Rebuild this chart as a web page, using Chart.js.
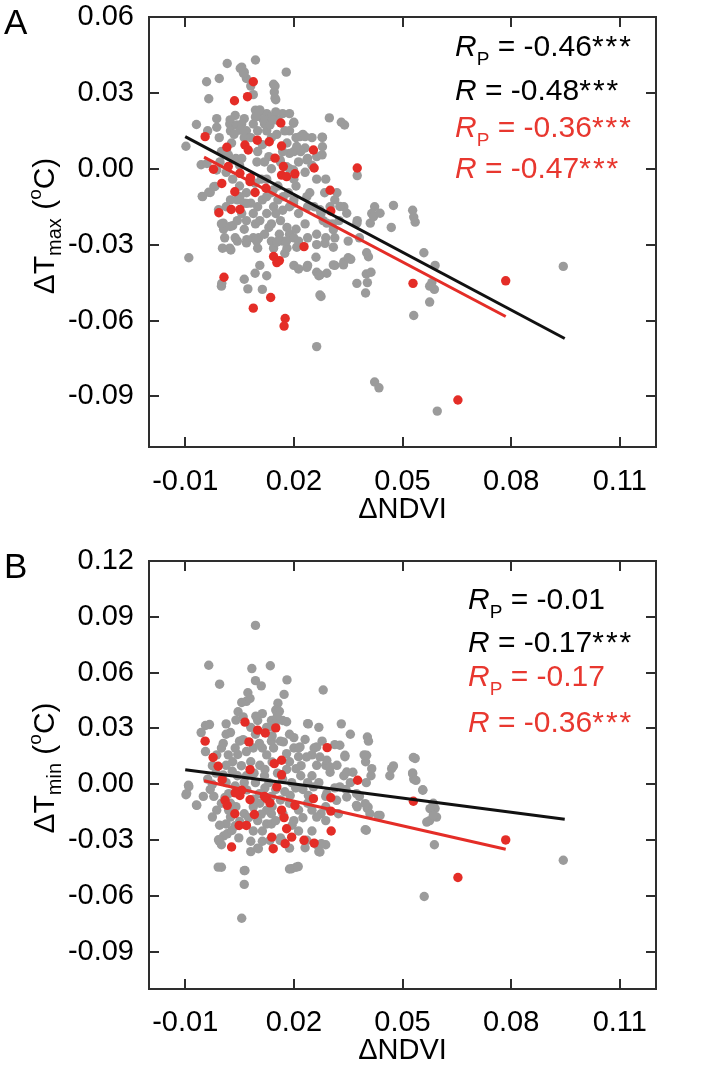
<!DOCTYPE html>
<html><head><meta charset="utf-8">
<script src="https://cdn.jsdelivr.net/npm/chart.js@4.4.1/dist/chart.umd.min.js"></script>
<style>
html,body{margin:0;padding:0;background:#fff;}
#wrap{position:relative;width:709px;height:1082px;overflow:hidden;}
canvas{position:absolute;left:0;width:709px;height:541px;}
#cA{top:0}
#cB{top:541px}
</style></head><body>
<div id="wrap"><canvas id="cA" width="709" height="541"></canvas><canvas id="cB" width="709" height="541"></canvas></div>
<script>
// ---------------- data ----------------
const xTicks = [-0.01, 0.02, 0.05, 0.08, 0.11];
const yTicksA = [-0.09, -0.06, -0.03, 0.00, 0.03, 0.06];
const yTicksB = [-0.09, -0.06, -0.03, 0.00, 0.03, 0.06, 0.09, 0.12];
const xTitle = 'ΔNDVI';
const yTitleSubA = 'max';
const yTitleSubB = 'min';

const greyA = [[-0.0098,0.0089],[-0.009,-0.0352],[-0.0069,0.0175],[-0.0056,0.0016],[-0.0053,-0.0109],[-0.0041,0.0344],[-0.0035,0.0277],[-0.0035,-0.0093],[-0.0021,-0.0071],[-0.0038,0.015],[-0.0013,0.0198],[-0.0006,0.0357],[-0.0013,0.0164],[-0.0006,0.0123],[0,0.0068],[-0.0004,0.0027],[0,-0.0218],[0.0006,-0.0239],[0.0009,-0.0273],[0.0003,-0.0314],[0,-0.0464],[0.0016,0.0416],[0.0023,0.0177],[0.0025,0.015],[0.0028,0.0102],[0.0019,0.0055],[0.0025,-0.0123],[0.0031,-0.0225],[0.0023,-0.0314],[0.0038,0.0211],[0.0035,0.0136],[0.004,0.0041],[0.0044,-0.0123],[0.0044,-0.0205],[0.005,0.0014],[0.0056,0.0402],[0.0063,0.0382],[0.0069,0.0357],[0.0063,0.0198],[0.0056,0.0177],[0.0069,0.015],[0.0063,0.0123],[0.0056,0.0041],[0.0069,-0.0095],[0.0063,-0.0136],[0.0056,-0.0177],[0.0069,-0.0205],[0.0063,-0.0239],[0.0069,-0.0293],[0.0063,-0.0437],[0.0073,-0.0475],[0.0081,0.0327],[0.0088,0.0293],[0.0094,0.043],[0.0094,0.0232],[0.0094,0.0205],[0.0088,0.0177],[0.01,0.015],[0.0098,0.0027],[0.01,-0.015],[0.0094,-0.0218],[0.0103,-0.0273],[0.0106,-0.0382],[0.0113,-0.0477],[0.0106,0.0225],[0.0113,0.0095],[0.011,-0.0041],[0.0113,-0.0123],[0.0125,0.0218],[0.0131,0.0191],[0.0125,0.015],[0.0138,0.0123],[0.0131,0.0048],[0.0125,-0.0041],[0.0138,-0.0095],[0.0125,-0.0177],[0.0131,-0.0232],[0.0138,-0.0286],[0.0125,-0.0423],[0.0144,0.0334],[0.0146,0.0303],[0.015,0.0273],[0.015,0.0225],[0.0156,0.0191],[0.0153,0.0136],[0.0163,0.0027],[0.0156,-0.0123],[0.0163,-0.0205],[0.016,-0.0259],[0.0169,-0.0286],[0.0175,-0.0334],[0.0179,0.0382],[0.0188,0.015],[0.0181,0.0102],[0.0188,0.0061],[0.0185,-0.0095],[0.0188,-0.015],[0.0181,-0.0232],[0.0188,-0.0259],[0.02,0.0184],[0.0206,0.0123],[0.02,0.0068],[0.0213,0.0027],[0.0206,-0.0068],[0.02,-0.0123],[0.0213,-0.0177],[0.0206,-0.0239],[0.02,-0.0273],[0.02,-0.0382],[0.0213,-0.0396],[0.0225,0.0136],[0.0231,0.0082],[0.0238,0.0041],[0.0231,-0.0014],[0.0244,-0.0095],[0.0238,-0.015],[0.0231,-0.0218],[0.0238,-0.0273],[0.0238,-0.0382],[0.025,0.0123],[0.0263,0.0048],[0.0256,-0.015],[0.0263,-0.0703],[0.0263,-0.0409],[0.0269,-0.0423],[0.0275,-0.0505],[0.0278,0.0125],[0.0278,0.0055],[0.0285,-0.0095],[0.0281,-0.0205],[0.0288,-0.0273],[0.0298,0.0201],[0.03,-0.015],[0.0306,-0.0218],[0.0313,-0.0273],[0.0313,-0.0382],[0.0331,0.0184],[0.034,0.0173],[0.0338,-0.0368],[0.035,-0.0352],[0.0375,-0.0027],[0.0375,-0.0205],[0.0381,-0.0273],[0.0398,-0.0491],[0.0403,-0.045],[0.04,-0.0416],[0.0413,-0.0409],[0.0406,-0.0348],[0.0423,-0.015],[0.0415,-0.0177],[0.0423,-0.0843],[0.0435,-0.0866],[0.0469,-0.0232],[0.0475,-0.0145],[0.0528,-0.0164],[0.0531,-0.0191],[0.0535,-0.0211],[0.0531,-0.058],[0.0559,-0.0332],[0.0581,-0.045],[0.0588,-0.0477],[0.0575,-0.0527],[0.059,-0.0382],[0.0596,-0.0958],[0.0944,-0.0386],[0.0575,-0.0464],
[0.0013,-0.0014],[0.0031,-0.0041],[0.005,-0.0068],[0.0081,-0.0136],[0.0088,-0.0177],[0.0106,-0.0205],[0.0088,-0.0273],[0.0119,-0.0259],[0.0138,-0.0218],[0.015,-0.0177],[0.0169,-0.0164],[0.0144,-0.015],[0.0156,-0.0068],[0.0138,0],[0.0119,0.0027],[0.01,0.0068],[0.0081,0.0123],[0.0119,0.0177],[0.0138,0.0205],[0.0169,0.0218],[0.0188,0.0218],[0.0175,0.015],[0.0169,0.0068],[0.0188,0],[0.0219,0.0068],[0.025,0.0014],[0.02,-0.0041],[0.0181,-0.0314],[0.0144,-0.0314],[0.01,-0.0314],[0.0044,-0.0286],[0.0013,-0.015],[0.0038,-0.0273],[0.0156,-0.0286],[0.0213,-0.0286],[0.0263,-0.0259],[0.0275,-0.0177],[0.0288,-0.0041],[0.0263,-0.0041],[0.0313,-0.0123],[0.0338,-0.015],[0.0325,-0.0205],[0.0319,-0.0095],[0.035,-0.0286],
[0.0024,0.0193],[0.0042,0.0173],[0.0051,0.0153],[0.0106,0.0233],[0.0116,0.0193],[0.0134,0.0173],[0.0143,0.0193],[0.0097,0.0206],[0.0199,0.018],[0.0217,0.0127],[0.0231,0.0127],[0.0208,0.0088],[0.0236,0.0035],[0.0199,-0.0005],[0.0162,0.0035],[0.018,0.0008],[0.0014,0.0074],[0.0033,0.0035],[-0.004,0.0021],[-0.0013,-0.0005],[-0.0008,-0.0162],[0.0005,-0.0215],[0.0024,-0.0228],[0.0051,-0.011],[0.007,-0.0137],[0.0093,-0.0057],[0.0125,-0.011],[0.0143,-0.0084],[0.0171,-0.011],[0.0199,-0.0137],[0.0236,-0.011],[0.0272,-0.0162],[0.0291,-0.0215],[0.0309,-0.0241],[0.0327,-0.0149],[0.0346,-0.0176],[0.0374,-0.0215],[0.0411,-0.0215],[0.042,-0.0189],[0.0438,-0.0176],[0.007,-0.028],[0.0097,-0.0285],[0.0153,-0.029],[0.018,-0.0285],[0.0208,-0.031],[0.0263,-0.03],[0.0286,-0.0295],[0.0309,-0.031],[0.0093,-0.0413],[0.0236,-0.039],[0.0261,-0.035],[0.0272,-0.042],[0.0291,-0.0413],[0.0309,-0.038],[0.0337,-0.038],[0.0357,-0.0358],[0.0272,-0.0499],[0.0374,-0.0453],[0.0401,-0.0332],[0.0001,-0.0453],[0.0026,-0.0321],[0.0052,0.0397],[0.0061,0.0377],[0.0148,0.0327],[0.0148,0.0279],[0.0279,0.0124],[0.0279,0.0087],[-0.0052,-0.011],[-0.0031,-0.0094],[-0.0018,-0.007]];

const redA = [[-0.0045,0.0127],[-0.0022,-0.0002],[0.0001,-0.0058],[-0.0007,-0.0174],[0.0007,-0.0429],[0.0015,0.0085],[0.0019,0.0009],[0.0027,-0.0161],[0.0037,-0.0091],[0.0036,0.0269],[0.0051,-0.0018],[0.0051,-0.0161],[0.0065,0.0094],[0.0072,0.0285],[0.0079,-0.0051],[0.0088,0.0344],[0.0074,0.0074],[0.0093,-0.0094],[0.0088,-0.0551],[0.0099,0.0113],[0.0123,-0.0077],[0.0136,-0.0509],[0.0132,0.0107],[0.0144,-0.0347],[0.0148,0.0042],[0.016,-0.0363],[0.0153,-0.0371],[0.0164,0.0181],[0.0166,0.009],[0.0166,-0.0025],[0.0171,0.0009],[0.0176,-0.0592],[0.0173,-0.0622],[0.018,-0.0031],[0.0203,-0.002],[0.0228,-0.0308],[0.0254,0.0074],[0.0256,0.0003],[0.03,-0.0085],[0.0302,-0.0167],[0.0375,0.0003],[0.0529,-0.0453],[0.0653,-0.0914],[0.0785,-0.0443],[0.008,-0.0035]];

const greyB = [[0.0094,0.0854],[-0.0035,0.064],[0.0135,0.0637],[0.0084,0.0622],[-0.0005,0.0538],[0.0094,0.0557],[0.011,0.0529],[0.0181,0.0561],[0.0281,0.0507],[0.0173,0.0483],[0.0073,0.0492],[0.0069,0.0446],[0.0056,0.044],[0.0156,0.0436],[0.015,0.0399],[0.0046,0.039],[0.006,0.0362],[0.0169,0.0343],[-0.0044,0.0316],[-0.0056,0.0278],[0.0013,0.0325],[0.0025,0.0278],[0.0138,0.0343],[0.024,0.0325],[0.0269,0.0306],[0.0331,0.0325],[0.0356,0.0269],[0.0278,0.0232],[0.0313,0.0213],[0.0341,0.0148],[0.0403,0.0254],[0.0406,0.0232],[0.0394,0.0158],[0.0415,0.0084],[0.0413,0.0046],[0.047,0.0084],[0.0465,0.0046],[0.0535,0.0139],[0.0528,0.0061],[0.0531,0.0028],[0.0556,-0.0032],[0.0585,-0.0102],[0.059,-0.013],[0.0575,-0.0195],[0.0594,-0.0176],[0.0588,-0.0325],[0.056,-0.0603],[0.0944,-0.0408],[0.0438,-0.0167],[0.04,-0.0247],[0.0403,-0.013],[0.0375,-0.0121],[0.0381,-0.0065],[0.0344,-0.0028],[0.0338,0.0046],[0.0313,-0.0019],[0.0275,-0.0158],[0.0288,-0.0195],[0.0269,-0.0362],[0.0263,-0.0325],[0.0206,-0.0446],[0.0188,-0.0455],[0,-0.0446],[0.0063,-0.0464],[0.0063,-0.0538],[0.0056,-0.072],[-0.0006,-0.0306],[0.0006,-0.0278],[0.01,-0.0343],[0.0113,-0.0306],[0.0048,-0.0288],[-0.0098,-0.0056],[-0.009,-0.0013],[-0.0069,-0.0111],[-0.0021,-0.0065],[-0.0025,0],[-0.0013,-0.0139],[0.0013,0.0009],[0.0019,0.0158],[0.0013,0.0102],[0.0031,0.0121],[0.0038,0.0195],[0.005,0.0232],[0.0069,0.0176],[0.0044,0.0046],[0.0063,0.0009],[0.0081,0.0121],[0.0088,0.0195],[0.0094,0.0269],[0.01,0.0343],[0.0113,0.0195],[0.0125,0.0158],[0.0138,0.0232],[0.0144,0.0195],[0.0106,0.0102],[0.0119,0.0046],[0.0131,0.0009],[0.015,-0.0028],[0.0138,-0.0065],[0.0188,0.0121],[0.02,0.0195],[0.0213,0.0195],[0.0213,0.0148],[0.0206,0.0084],[0.0219,0.0046],[0.0194,0.0009],[0.0225,-0.0028],[0.0238,0.0009],[0.025,0.0046],[0.0263,0.0102],[0.025,0.0158],[0.0288,0.0102],[0.03,0.0065],[0.0269,0.0009],[0.0288,-0.0065],[0.0238,-0.0102],[0.0213,-0.0139],[0.02,-0.0195],[0.0188,-0.0102],[0.0163,-0.0084],[0.0138,-0.0158],[0.0125,-0.0213],[0.01,-0.0195],[0.0088,-0.0251],[0.0113,-0.0251],[0.0138,-0.0213],[0.015,-0.0195],[0.0163,-0.0288],[0.0213,-0.0251],[0.025,-0.0251],[0.0263,-0.0176],[0.0025,-0.0176],[0.0038,-0.0223],[0.0013,-0.0213],[0.0063,-0.0158],[0.0088,-0.0121],[0.0106,-0.0102],[0.0125,-0.0139],[0.0025,-0.0102],[0,-0.0102],[-0.0031,-0.0028],[-0.005,-0.0065],[-0.0038,0.0028],[-0.0013,0.0158],[0,0.0195],[-0.0044,0.0176],[0.0013,0.0269],[0.0081,0.0306],[0.0125,0.0306],[0.0113,0.038],[0.0163,0.0232],[0.0188,0.0269],[0.02,0.0251],[0.0231,0.0241],[0.0256,0.0195],[0.0169,0.0028],[0.0094,0.0009],[0.0069,0.0046],[0.0038,-0.0009],[-0.0025,-0.0176],[0,-0.0325],[0.0081,-0.0306],[0.0081,-0.0362],[0.0169,-0.0306],[0.0188,-0.0343],[0.0288,-0.0325],[0.0398,0.0121],[0.04,0.0009],[0.0356,0.0009],[0.0363,0.0065],[0.0319,0.0102],[0.025,-0.0139],[0.0288,-0.0121],
[0.0079,0.0461],[0.016,0.0392],[0.0154,0.0365],[0.0095,0.0366],[0.018,0.0336],[-0.0033,0.0321],[0.004,0.0345],[0.0139,0.0309],[0.0148,0.0325],[0.0238,0.0326],[-0.0091,-0.0005],[-0.0096,-0.005],[-0.0068,-0.0113],[-0.0009,-0.0445],[0.0065,-0.0463],[0.0194,-0.0454],[0.0212,-0.0442],[-0.0008,-0.0298],[0.0016,-0.0266],[0.0029,-0.0248],[0.0102,-0.0346],[0.0134,-0.0301],[0.0162,-0.0301],[0.0231,-0.0341],[0.0236,-0.0301],[0.0272,-0.0364],[0.0276,-0.0319],[0.0397,-0.0244],[0.0373,-0.0113],[0.0405,-0.0122],[0.0433,-0.0167],[0.053,0.0144],[0.0528,0.0057],[0.0537,0.0021],[0.0556,-0.0029],[0.0576,-0.0131],[0.0585,-0.0167],[0.0567,-0.0203],[0.0401,0.0156],[0.0475,0.0099],[0.0341,0.0156],[0.0346,0.0066],[0.0327,0.021],[0.0291,0.0129],[0.03,0.0093],[0.0263,0.0201],[0.0272,0.0147],[0.0217,0.0201],[0.0235,0.0147],[0.0171,0.0228],[0.018,0.0165],[0.0254,-0.0014],[0.0291,-0.005],[0.0323,-0.0158],[0.0318,-0.0086],[0.0373,-0.005],[0.0327,-0.0014],[0.0346,-0.0068],[0.0397,-0.0104],[0.041,-0.0158],
[0.0005,0.005],[0.002,-0.005],[0.004,-0.012],[0.0055,0.01],[0.007,-0.003],[0.009,0.006],[0.0105,-0.005],[0.012,0.008],[0.014,0.012],[0.0155,0.006],[0.0175,-0.004],[0.019,-0.006],[0.0205,-0.002],[0.022,0.01],[0.003,0.007],[0.005,-0.02],[0.0075,-0.018],[0.011,-0.016],[0.014,-0.012],[0.017,-0.016],[0.0195,-0.022],[0.0225,-0.018],[0.024,-0.006],[-0.0015,0.006],[-0.0025,0.01],[0.001,-0.007],[0.006,0.024],[0.0105,0.022],[0.014,0.026],[0.018,0.008],[0.009,-0.008],[0.012,-0.002],[0.0045,0.016],[0.0005,0.022],[-0.0005,-0.022],[0.002,-0.014]];

const redB = [[-0.0045,0.0232],[-0.0023,0.0144],[-0.0009,0.0097],[0.0002,0.0025],[0.001,-0.0086],[0.0016,-0.0113],[0.0037,-0.0158],[0.0028,-0.0337],[0.0049,-0.0221],[0.0069,-0.0221],[0.0051,-0.006],[0.0056,-0.0032],[0.0079,-0.0083],[0.0079,0.0079],[0.0076,0.0228],[0.0065,0.0334],[0.0091,-0.0162],[0.01,0.0291],[0.0121,0.0276],[0.015,0.0303],[0.0125,-0.0077],[0.0134,-0.01],[0.0139,-0.0284],[0.0143,-0.0346],[0.0146,0.0111],[0.0166,0.0129],[0.0166,0.0051],[0.0153,-0.0014],[0.0166,-0.0139],[0.0173,-0.0179],[0.018,-0.0239],[0.0194,-0.0284],[0.0176,-0.0319],[0.0203,-0.0113],[0.0228,-0.0301],[0.0254,-0.0077],[0.0256,-0.0316],[0.0292,0.0197],[0.0302,-0.0072],[0.0302,-0.0144],[0.0303,-0.0251],[0.0376,0.0022],[0.053,-0.0091],[0.0653,-0.0501],[0.0785,-0.0299],[0.0038,-0.0046],[0.0119,-0.0065]];

// regression lines (end points)
const fitAllA = [[-0.01,0.0127],[0.0948,-0.0671]];
const fitRedA = [[-0.0048,0.0046],[0.0785,-0.0584]];
const fitAllB = [[-0.01,0.0078],[0.0948,-0.0188]];
const fitRedB = [[-0.0048,0.0019],[0.0785,-0.0349]];

// statistics text
const statsA = [
  {sym:'R', sub:'P', val:'-0.46', stars:'***'},
  {sym:'R', sub:'',  val:'-0.48', stars:'***'},
  {sym:'R', sub:'P', val:'-0.36', stars:'***'},
  {sym:'R', sub:'',  val:'-0.47', stars:'***'}
];
const statsB = [
  {sym:'R', sub:'P', val:'-0.01', stars:''},
  {sym:'R', sub:'',  val:'-0.17', stars:'***'},
  {sym:'R', sub:'P', val:'-0.17', stars:''},
  {sym:'R', sub:'',  val:'-0.36', stars:'***'}
];

// ---------------- styles ----------------
const FONT = '"Liberation Sans", Arial, Helvetica, sans-serif';
const GREY = '#9b9b9b', RED = '#e42d27', REDTXT = '#e8372f', BLACK = '#111111', AXIS = '#2e2e2e';
const statColors = ['#000000', '#000000', REDTXT, REDTXT];

function xy(arr){ return arr.map(p => ({x:p[0], y:p[1]})); }
function fontStr(p){ return (p.italic ? 'italic ' : '') + p.size + 'px ' + FONT; }
function richWidth(ctx, parts){
  let w = 0;
  parts.forEach(p => { ctx.font = fontStr(p); (p.gap ? [...p.t] : [p.t]).forEach(ch => { w += ctx.measureText(ch).width + (p.gap || 0); }); });
  return w;
}
function drawRich(ctx, x, y, parts){
  parts.forEach(p => {
    ctx.font = fontStr(p);
    (p.gap ? [...p.t] : [p.t]).forEach(ch => { ctx.fillText(ch, x, y + (p.dy || 0)); x += ctx.measureText(ch).width + (p.gap || 0); });
  });
  return x;
}

const panelDeco = {
  id: 'panelDeco',
  afterDraw(chart, args, o) {
    const {ctx, chartArea: a} = chart;
    const xs = chart.scales.x, ys = chart.scales.y;
    ctx.save();
    ctx.strokeStyle = AXIS; ctx.lineWidth = 2;
    ctx.strokeRect(a.left, a.top, a.right - a.left, a.bottom - a.top);
    ctx.beginPath();
    o.xTicks.forEach(v => { const p = Math.round(xs.getPixelForValue(v));
      ctx.moveTo(p, a.bottom); ctx.lineTo(p, a.bottom - o.tick);
      ctx.moveTo(p, a.top); ctx.lineTo(p, a.top + o.tick); });
    o.yTicks.forEach(v => { const p = Math.round(ys.getPixelForValue(v));
      ctx.moveTo(a.left, p); ctx.lineTo(a.left + o.tick, p);
      ctx.moveTo(a.right, p); ctx.lineTo(a.right - o.tick, p); });
    ctx.stroke();
    ctx.textBaseline = 'alphabetic'; ctx.textAlign = 'left'; ctx.fillStyle = '#000';
    ctx.font = o.letterSize + 'px ' + FONT;
    ctx.fillText(o.letter, o.letterX, o.letterY);
    // rotated y-axis title with subscript / superscript
    const tp = [{t:'ΔT', size:30}, {t:o.titleSub, size:20, dy:7}, {t:' (', size:30}, {t:'o', size:19, dy:-13}, {t:'C)', size:30}];
    const tw = richWidth(ctx, tp);
    ctx.save(); ctx.translate(o.titleX, o.titleCY); ctx.rotate(-Math.PI / 2);
    drawRich(ctx, -tw / 2, 0, tp); ctx.restore();
    // statistics
    o.stats.forEach((s, i) => {
      ctx.fillStyle = statColors[i];
      const parts = [{t:s.sym, size:30, italic:true}];
      if (s.sub) parts.push({t:s.sub, size:19, dy:9});
      parts.push({t:' = ' + s.val, size:30});
      if (s.stars) parts.push({t:s.stars, size:30, gap:2});
      drawRich(ctx, o.statX, o.statY[i], parts);
    });
    ctx.restore();
  }
};

function makePanel(id, p) {
  const tickFont = {family: FONT, size: 29, lineHeight: 1};
  return new Chart(document.getElementById(id), {
    type: 'scatter',
    data: { datasets: [
      {data: xy(p.fitAll), showLine: true, borderColor: BLACK, borderWidth: 3, pointRadius: 0, fill: false},
      {data: xy(p.fitRed), showLine: true, borderColor: RED, borderWidth: 3, pointRadius: 0, fill: false},
      {data: xy(p.red), pointRadius: 4.7, backgroundColor: RED, borderWidth: 0},
      {data: xy(p.grey), pointRadius: 4.7, backgroundColor: GREY, borderWidth: 0}
    ]},
    options: {
      responsive: false, animation: false, devicePixelRatio: 1,
      layout: {padding: {left: 0, right: 53, top: p.padTop, bottom: 0}},
      plugins: {
        legend: {display: false}, tooltip: {enabled: false},
        panelDeco: {xTicks: xTicks, yTicks: p.yTicks, tick: 10, letter: p.letter, letterSize: 35, letterX: 4, letterY: p.letterY,
          titleSub: p.titleSub, titleX: 54, titleCY: p.titleCY, stats: p.stats, statX: p.statX, statY: p.statY}
      },
      scales: {
        x: {type: 'linear', min: -0.02, max: 0.12,
          grid: {display: false, drawTicks: false}, border: {display: false},
          afterBuildTicks: s => { s.ticks = xTicks.map(v => ({value: v})); },
          afterFit: s => { s.height = 541 - p.boxBottom; s.paddingLeft = 0; s.paddingRight = 0; },
          ticks: {padding: p.xLabPad, color: '#000', font: tickFont, autoSkip: false, maxRotation: 0,
            callback: v => Number(v).toFixed(2)},
          title: {display: true, text: xTitle, color: '#000', font: {family: FONT, size: 29, lineHeight: 1}, padding: {top: 0, bottom: 17}}
        },
        y: {type: 'linear', min: p.ymin, max: p.ymax,
          grid: {display: false, drawTicks: false}, border: {display: false},
          afterBuildTicks: s => { s.ticks = p.yTicks.map(v => ({value: v})); },
          afterFit: s => { s.width = 149; s.paddingTop = 0; s.paddingBottom = 0; },
          ticks: {padding: 15, color: '#000', font: tickFont, autoSkip: false,
            callback: v => Number(v).toFixed(2)}
        }
      }
    },
    plugins: [panelDeco]
  });
}

makePanel('cA', {grey: greyA, red: redA, fitAll: fitAllA, fitRed: fitRedA, yTicks: yTicksA, ymin: -0.11, ymax: 0.06,
  padTop: 17, boxBottom: 447, xLabPad: 20, letter: 'A', letterY: 34, titleSub: yTitleSubA, titleCY: 226,
  stats: statsA, statX: 455, statY: [56, 100, 137, 178]});
makePanel('cB', {grey: greyB, red: redB, fitAll: fitAllB, fitRed: fitRedB, yTicks: yTicksB, ymin: -0.11, ymax: 0.12,
  padTop: 20, boxBottom: 448, xLabPad: 19, letter: 'B', letterY: 37, titleSub: yTitleSubB, titleCY: 227,
  stats: statsB, statX: 468, statY: [68, 111, 145, 191]});
</script>
</body></html>
